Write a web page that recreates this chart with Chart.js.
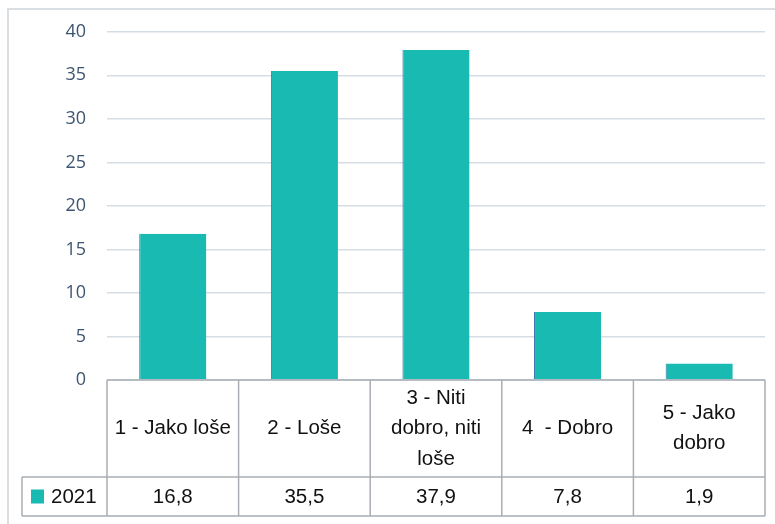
<!DOCTYPE html>
<html>
<head>
<meta charset="utf-8">
<script src="https://cdn.jsdelivr.net/npm/chart.js@4"></script>
<style>
  html, body { margin: 0; padding: 0; background: #fff; }
  #wrap { width: 775px; height: 524px; }
</style>
</head>
<body>
<div id="wrap"><canvas id="myChart" width="775" height="524"></canvas></div>
<script>
// categories as shown in the data table (already wrapped like the original)
const categories = [
  ['1 - Jako loše'],
  ['2 - Loše'],
  ['3 - Niti', 'dobro, niti', 'loše'],
  ['4  - Dobro'],
  ['5 - Jako', 'dobro']
];
const seriesName = '2021';
const values = [16.8, 35.5, 37.9, 7.8, 1.9];
const valueLabels = ['16,8', '35,5', '37,9', '7,8', '1,9'];
const yTicks = [0, 5, 10, 15, 20, 25, 30, 35, 40];

const barColor = '#19bab2';
const lineColor = '#a8aeb4';
const tableFont = '20.5px "Liberation Sans", sans-serif';

// draws the frame and the Excel-style data table under the plot
const dataTable = {
  id: 'dataTable',
  afterDraw(chart) {
    const ctx = chart.ctx;
    const x = chart.scales.x;
    const area = chart.chartArea;
    const n = categories.length;
    const half = (x.getPixelForValue(1) - x.getPixelForValue(0)) / 2;
    const top = area.bottom;
    const mid = top + 97;
    const bot = mid + 39;
    const legLeft = 22;

    ctx.save();
    // outer frame (top and left only are visible)
    ctx.strokeStyle = '#d9dee3';
    ctx.lineWidth = 2;
    ctx.beginPath();
    ctx.moveTo(8, 775); ctx.lineTo(8, 9); ctx.lineTo(775, 9);
    ctx.stroke();

    ctx.strokeStyle = lineColor;
    ctx.lineWidth = 1.5;
    ctx.beginPath();
    ctx.moveTo(area.left, top); ctx.lineTo(area.right, top);
    ctx.moveTo(legLeft, mid); ctx.lineTo(area.right, mid);
    ctx.moveTo(legLeft, bot); ctx.lineTo(area.right, bot);
    ctx.moveTo(legLeft, mid); ctx.lineTo(legLeft, bot);
    for (let i = 0; i <= n; i++) {
      const px = i < n ? x.getPixelForValue(i) - half : x.getPixelForValue(n - 1) + half;
      ctx.moveTo(px, top); ctx.lineTo(px, bot);
    }
    ctx.stroke();

    ctx.fillStyle = '#111';
    ctx.font = tableFont;
    ctx.textAlign = 'center';
    ctx.textBaseline = 'middle';
    const lh = 30.5;
    categories.forEach((lines, i) => {
      const cx = x.getPixelForValue(i);
      const cy = (top + mid) / 2 - (lines.length - 1) * lh / 2;
      lines.forEach((t, j) => ctx.fillText(t, cx, cy + j * lh));
      ctx.fillText(valueLabels[i], cx, (mid + bot) / 2 + 1);
    });

    // legend key
    ctx.fillStyle = barColor;
    ctx.fillRect(31, (mid + bot) / 2 - 7, 13, 14);
    ctx.fillStyle = '#111';
    ctx.textAlign = 'left';
    ctx.fillText(seriesName, 51, (mid + bot) / 2 + 1);
    ctx.restore();
  }
};

const data = {
  labels: categories,
  datasets: [{
    label: seriesName,
    data: values,
    backgroundColor: barColor,
    borderColor: '#2f6fa5',
    borderWidth: { left: 1, right: 0, top: 0, bottom: 0 },
    borderSkipped: false,
    barPercentage: 0.51,
    categoryPercentage: 1
  }]
};

const config = {
  type: 'bar',
  data: data,
  options: {
    responsive: false,
    animation: false,
    layout: { padding: { left: 0, right: 10, top: 23, bottom: 144 } },
    plugins: { legend: { display: false }, tooltip: { enabled: false } },
    scales: {
      x: {
        display: false,
        grid: { display: false }
      },
      y: {
        min: 0,
        max: 40,
        afterFit(scale) { scale.width = 107; },
        afterBuildTicks(scale) { scale.ticks = yTicks.map(v => ({ value: v })); },
        border: { display: false },
        grid: { color: '#d6dee5', lineWidth: 1.5, drawTicks: false },
        ticks: {
          color: '#3e5570',
          padding: 21,
          font: { family: '"Open Sans", sans-serif', size: 18 }
        }
      }
    }
  },
  plugins: [dataTable]
};

const myChart = new Chart(document.getElementById('myChart'), config);
</script>
</body>
</html>
